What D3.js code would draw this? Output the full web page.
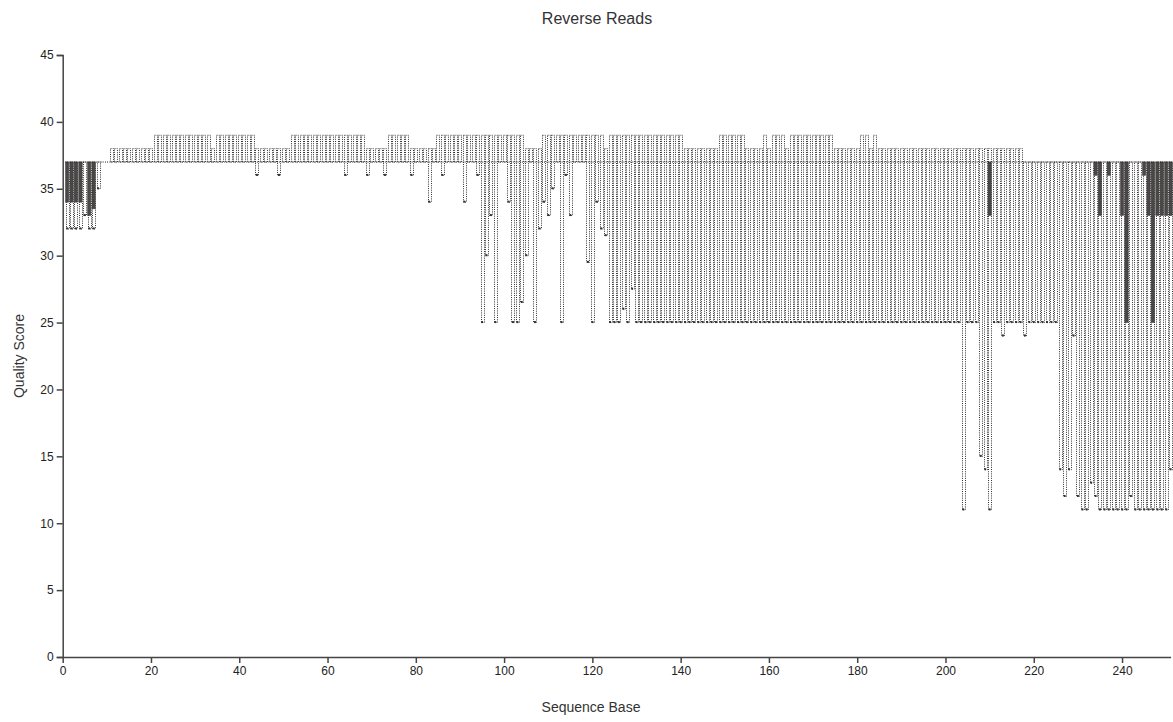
<!DOCTYPE html>
<html>
<head>
<meta charset="utf-8">
<script src="https://cdn.jsdelivr.net/npm/d3@7"></script>
<style>
  body { margin: 0; background: #fff; }
  .axis path, .axis line { stroke: #444; stroke-width: 1.5; }
  .axis text { font-family: "Liberation Sans", Arial, sans-serif; font-size: 12px; fill: #222; }
  .label { font-family: "Liberation Sans", Arial, sans-serif; fill: #333; }
</style>
</head>
<body>
<div id="chart"></div>
<script>
// quality score summary per sequence base (base = index + 1)
var upperWhisker = [
  37,37,37,37,37,37,37,37,37,37,
  38,38,38,38,38,38,38,38,38,38,
  39,39,39,39,39,39,39,39,39,39,
  39,39,39,38,39,39,39,39,39,39,
  39,39,39,38,38,38,38,38,38,38,
  38,39,39,39,39,39,39,39,39,39,
  39,39,39,39,39,39,39,39,38,38,
  38,38,38,39,39,39,39,39,38,38,
  38,38,38,38,39,39,39,39,39,39,
  39,39,39,39,39,39,39,39,39,39,
  39,39,39,39,38,38,38,38,39,39,
  39,39,39,39,39,39,39,39,39,39,
  39,39,38,39,39,39,39,39,39,39,
  39,39,39,39,39,39,39,39,39,39,
  38,38,38,38,38,38,38,38,39,39,
  39,39,39,39,38,38,38,38,39,38,
  39,39,39,38,39,39,39,39,39,39,
  39,39,39,39,38,38,38,38,38,38,
  39,39,38,39,38,38,38,38,38,38,
  38,38,38,38,38,38,38,38,38,38,
  38,38,38,38,38,38,38,38,38,38,
  38,38,38,38,38,38,38,37,37,37,
  37,37,37,37,37,37,37,37,37,37,
  37,37,37,37,37,37,37,37,37,37,
  37,37,37,37,37,37,37,37,37,37,
  37
];

var q75 = [
  37,37,37,37,37,37,37,37,37,37, 37,37,37,37,37,37,37,37,37,37,
  37,37,37,37,37,37,37,37,37,37, 37,37,37,37,37,37,37,37,37,37,
  37,37,37,37,37,37,37,37,37,37, 37,37,37,37,37,37,37,37,37,37,
  37,37,37,37,37,37,37,37,37,37, 37,37,37,37,37,37,37,37,37,37,
  37,37,37,37,37,37,37,37,37,37, 37,37,37,37,37,37,37,37,37,37,
  37,37,37,37,37,37,37,37,37,37, 37,37,37,37,37,37,37,37,37,37,
  37,37,37,37,37,37,37,37,37,37, 37,37,37,37,37,37,37,37,37,37,
  37,37,37,37,37,37,37,37,37,37, 37,37,37,37,37,37,37,37,37,37,
  37,37,37,37,37,37,37,37,37,37, 37,37,37,37,37,37,37,37,37,37,
  37,37,37,37,37,37,37,37,37,37, 37,37,37,37,37,37,37,37,37,37,
  37,37,37,37,37,37,37,37,37,37, 37,37,37,37,37,37,37,37,37,37,
  37,37,37,37,37,37,37,37,37,37, 37,37,37,37,37,37,37,37,37,37,
  37,37,37,37,37,37,37,37,37,37, 37
];

var median = [
  37,37,37,37,37,37,37,37,37,37, 37,37,37,37,37,37,37,37,37,37,
  37,37,37,37,37,37,37,37,37,37, 37,37,37,37,37,37,37,37,37,37,
  37,37,37,37,37,37,37,37,37,37, 37,37,37,37,37,37,37,37,37,37,
  37,37,37,37,37,37,37,37,37,37, 37,37,37,37,37,37,37,37,37,37,
  37,37,37,37,37,37,37,37,37,37, 37,37,37,37,37,37,37,37,37,37,
  37,37,37,37,37,37,37,37,37,37, 37,37,37,37,37,37,37,37,37,37,
  37,37,37,37,37,37,37,37,37,37, 37,37,37,37,37,37,37,37,37,37,
  37,37,37,37,37,37,37,37,37,37, 37,37,37,37,37,37,37,37,37,37,
  37,37,37,37,37,37,37,37,37,37, 37,37,37,37,37,37,37,37,37,37,
  37,37,37,37,37,37,37,37,37,37, 37,37,37,37,37,37,37,37,37,37,
  37,37,37,37,37,37,37,37,37,37, 37,37,37,37,37,37,37,37,37,37,
  37,37,37,37,37,37,37,37,37,37, 37,37,37,37,37,37,37,37,37,37,
  37,37,37,37,37,37,37,37,37,37, 37
];

var q25 = [
  34,34,34,34,37,33,33.5,37,37,37,
  37,37,37,37,37,37,37,37,37,37,
  37,37,37,37,37,37,37,37,37,37,
  37,37,37,37,37,37,37,37,37,37,
  37,37,37,37,37,37,37,37,37,37,
  37,37,37,37,37,37,37,37,37,37,
  37,37,37,37,37,37,37,37,37,37,
  37,37,37,37,37,37,37,37,37,37,
  37,37,37,37,37,37,37,37,37,37,
  37,37,37,37,37,37,37,37,37,37,
  37,37,37,37,37,37,37,37,37,37,
  37,37,37,37,37,37,37,37,37,37,
  37,37,37,37,37,37,37,37,37,37,
  37,37,37,37,37,37,37,37,37,37,
  37,37,37,37,37,37,37,37,37,37,
  37,37,37,37,37,37,37,37,37,37,
  37,37,37,37,37,37,37,37,37,37,
  37,37,37,37,37,37,37,37,37,37,
  37,37,37,37,37,37,37,37,37,37,
  37,37,37,37,37,37,37,37,37,37,
  37,37,37,37,37,37,37,37,37,33,
  37,37,37,37,37,37,37,37,37,37,
  37,37,37,37,37,37,37,37,37,37,
  37,37,37,36,33,37,36,37,37,33,
  25,37,37,37,36,33,25,33,33,33,
  33
];

var lowerWhisker = [
  32,32,32,32,33,32,32,35,37,37,
  37,37,37,37,37,37,37,37,37,37,
  37,37,37,37,37,37,37,37,37,37,
  37,37,37,37,37,37,37,37,37,37,
  37,37,37,36,37,37,37,37,36,37,
  37,37,37,37,37,37,37,37,37,37,
  37,37,37,36,37,37,37,37,36,37,
  37,37,36,37,37,37,37,37,36,37,
  37,37,34,37,37,36,37,37,37,37,
  34,37,37,36,25,30,33,25,37,37,
  34,25,25,26.5,30,37,25,32,34,33,
  35,37,25,36,33,37,37,37,29.5,25,
  34,32,31.5,25,25,25,26,25,27.5,25,
  25,25,25,25,25,25,25,25,25,25,
  25,25,25,25,25,25,25,25,25,25,
  25,25,25,25,25,25,25,25,25,25,
  25,25,25,25,25,25,25,25,25,25,
  25,25,25,25,25,25,25,25,25,25,
  25,25,25,25,25,25,25,25,25,25,
  25,25,25,25,25,25,25,25,25,25,
  25,25,25,11,25,25,25,15,14,11,
  25,25,24,25,25,25,25,24,25,25,
  25,25,25,25,25,14,12,14,24,12,
  11,11,13,12,11,11,11,11,11,11,
  11,12,11,11,11,11,11,11,11,11,
  14
];

var xTicks = [0, 20, 40, 60, 80, 100, 120, 140, 160, 180, 200, 220, 240];
var yTicks = [0, 5, 10, 15, 20, 25, 30, 35, 40, 45];

var svgWidth = 1173;
var svgHeight = 722;

var svg = d3.select("#chart")
  .append("svg")
  .attr("width", svgWidth)
  .attr("height", svgHeight);

var xScale = d3.scaleLinear()
  .domain([0, 251])
  .range([62.7, 1170.6]);

var yScale = d3.scaleLinear()
  .domain([0, 45])
  .range([657, 55]);

// table built from the arrays
var rows = q25.map(function(d, i) {
  return {
    base: i + 1,
    lo: lowerWhisker[i],
    q1: d,
    med: median[i],
    q3: q75[i],
    hi: upperWhisker[i]
  };
});

// whiskers (dotted outline)
svg.append("g")
  .selectAll("rect")
  .data(rows)
  .enter()
  .append("rect")
  .attr("x", d => Math.round(xScale(d.base) - 1.5) + 0.5)
  .attr("width", 3)
  .attr("y", d => yScale(d.hi))
  .attr("height", d => yScale(d.lo) - yScale(d.hi))
  .attr("fill", "none")
  .attr("stroke", "#333")
  .attr("stroke-width", 1)
  .attr("stroke-dasharray", "1,1.2");

// whisker ends
svg.append("g")
  .selectAll("rect")
  .data(rows.filter(d => d.lo < d.q1))
  .enter()
  .append("rect")
  .attr("x", d => xScale(d.base) - 1)
  .attr("width", 2)
  .attr("y", d => yScale(d.lo) - 1.5)
  .attr("height", 2)
  .attr("fill", "#333");

// boxes
svg.append("g")
  .selectAll("rect")
  .data(rows.filter(d => d.q3 > d.q1))
  .enter()
  .append("rect")
  .attr("x", d => xScale(d.base) - 1.6)
  .attr("width", 3.2)
  .attr("y", d => yScale(d.q3))
  .attr("height", d => yScale(d.q1) - yScale(d.q3))
  .attr("fill", "#4a4747")
  .attr("stroke", "#3a3838")
  .attr("stroke-width", 0.5);

// medians
svg.append("g")
  .selectAll("line")
  .data(rows)
  .enter()
  .append("line")
  .attr("x1", d => xScale(d.base) - 1.8)
  .attr("x2", d => xScale(d.base) + 1.8)
  .attr("y1", d => yScale(d.med))
  .attr("y2", d => yScale(d.med))
  .attr("stroke", "#222")
  .attr("stroke-width", 1)
  .attr("stroke-dasharray", "1,1");

// axes
svg.append("g")
  .attr("class", "axis")
  .attr("transform", `translate(0, ${yScale(0)})`)
  .call(d3.axisBottom(xScale).tickValues(xTicks).tickSizeOuter(0));

svg.append("g")
  .attr("class", "axis")
  .attr("transform", `translate(${xScale(0)}, 0)`)
  .call(d3.axisLeft(yScale).tickValues(yTicks));

// titles
svg.append("text")
  .attr("class", "label")
  .attr("x", 597)
  .attr("y", 24)
  .attr("text-anchor", "middle")
  .attr("font-size", "16px")
  .text("Reverse Reads");

svg.append("text")
  .attr("class", "label")
  .attr("x", 591)
  .attr("y", 712)
  .attr("text-anchor", "middle")
  .attr("font-size", "14px")
  .text("Sequence Base");

svg.append("text")
  .attr("class", "label")
  .attr("transform", "rotate(-90)")
  .attr("x", -356)
  .attr("y", 24)
  .attr("text-anchor", "middle")
  .attr("font-size", "14px")
  .text("Quality Score");
</script>
</body>
</html>
